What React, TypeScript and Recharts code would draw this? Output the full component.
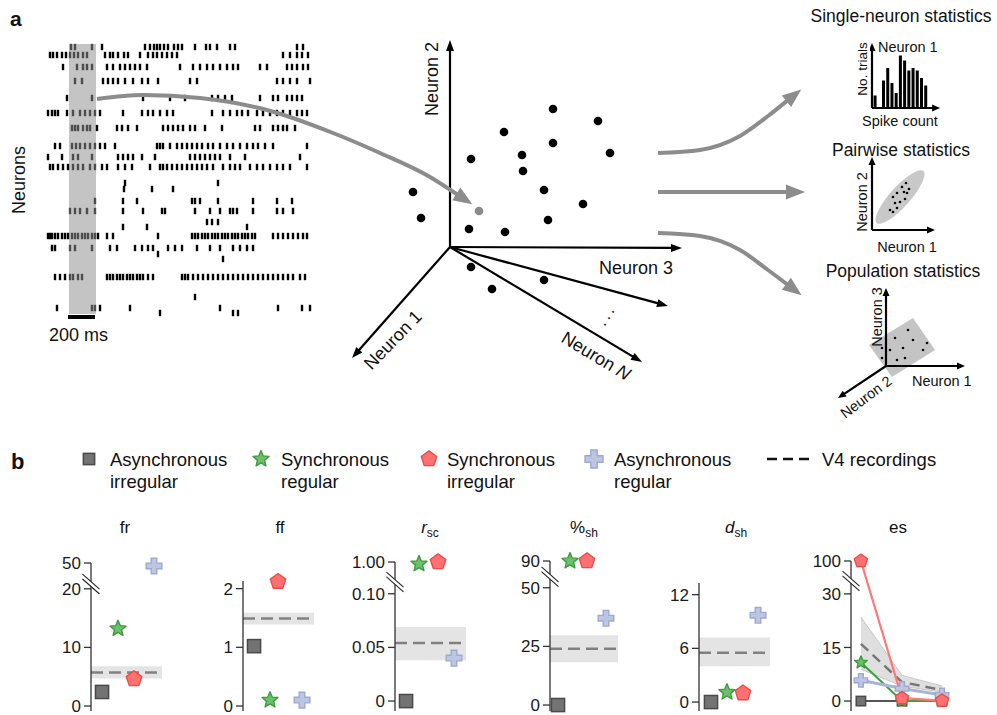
import React from "react"
import {
  ComposedChart, ScatterChart, Scatter, Line, Area, Bar, XAxis, YAxis,
  ReferenceArea, ReferenceLine, ReferenceDot,
} from "recharts"

const FONT = "'Liberation Sans', Arial, Helvetica, sans-serif"
const ARROW_GRAY = "#8c8c8c"
const NONE = { top: 0, right: 0, bottom: 0, left: 0 }

// ---------- panel a : raster (x in ~7.4 ms bins, 27 bins = 200 ms ; y = neuron row)
const rasterRows = [47, 55, 67, 81, 98, 113, 128, 146, 157, 167, 183, 189, 201, 211, 222, 227, 236, 248, 254, 259, 277, 297, 308, 313]
const rasterSpikes: number[][] = [
  [71, 75, 92, 102, 145, 150, 154, 157, 160, 164, 168, 174, 178, 182, 195, 206, 210, 217, 230, 235, 297, 303],
  [50, 53, 57, 62, 66, 70, 74, 78, 83, 87, 105, 110, 113, 118, 124, 128, 140, 148, 153, 157, 162, 167, 172, 177, 283, 290, 297, 302, 308],
  [63, 77, 83, 87, 92, 107, 113, 120, 125, 130, 135, 140, 147, 180, 193, 200, 207, 213, 220, 227, 233, 238, 260, 267, 287, 292, 297, 303, 308],
  [75, 82, 103, 108, 113, 118, 125, 133, 142, 148, 158, 190, 197, 277, 283, 290, 297, 310],
  [67, 92, 143, 170, 185, 212, 218, 225, 232, 260, 273, 278, 287, 292, 297, 302],
  [48, 52, 55, 58, 67, 73, 80, 85, 90, 95, 100, 123, 142, 148, 153, 160, 167, 173, 212, 223, 230, 237, 242, 248, 257, 263, 270, 277, 283, 290, 297, 302, 307],
  [72, 75, 78, 83, 87, 90, 97, 117, 122, 128, 137, 163, 168, 173, 178, 183, 190, 195, 205, 222, 255, 260, 273, 278, 283, 287, 295],
  [55, 60, 72, 76, 80, 85, 90, 95, 100, 105, 115, 157, 160, 163, 170, 177, 182, 187, 192, 197, 202, 208, 213, 220, 227, 233, 240, 247, 253, 258, 265, 273, 307],
  [48, 62, 73, 78, 92, 118, 123, 128, 133, 142, 155, 190, 195, 200, 205, 210, 215, 220, 230, 245, 300],
  [50, 53, 58, 63, 68, 73, 78, 83, 90, 95, 102, 107, 118, 125, 132, 150, 160, 163, 167, 172, 177, 182, 187, 192, 197, 202, 207, 213, 223, 230, 235, 240, 250, 257, 263, 270, 277, 283, 290, 307],
  [125, 218],
  [124, 152, 173],
  [95, 123, 137, 192, 195, 200, 218, 253, 277, 292],
  [70, 75, 80, 87, 95, 123, 143, 162, 165, 195, 210, 220, 230, 233, 237, 253, 277, 283, 293],
  [207, 212, 218],
  [123, 147, 247],
  [48, 50, 52, 55, 58, 62, 65, 68, 72, 75, 78, 82, 85, 88, 92, 95, 98, 107, 113, 158, 192, 195, 198, 202, 205, 208, 212, 215, 218, 222, 225, 228, 232, 235, 238, 242, 245, 248, 252, 255, 273, 278, 283, 288, 293, 298, 303, 307],
  [52, 55, 70, 75, 92, 110, 117, 135, 142, 148, 153, 168, 175, 182, 197, 210, 220, 233, 240, 247, 253],
  [158],
  [223],
  [55, 60, 65, 70, 73, 78, 82, 107, 110, 113, 117, 120, 123, 127, 130, 133, 137, 140, 143, 148, 153, 182, 185, 188, 193, 198, 203, 208, 213, 218, 223, 228, 233, 238, 243, 248, 253, 258, 263, 268, 273, 278, 283, 288, 293, 300, 305],
  [195],
  [57, 92, 95, 100, 130, 220, 278, 302, 310],
  [160, 233, 238],
]
const windowBins = [69, 96]
const scaleBarBins = [68, 95]

// ---------- neuron space (relative to origin)
const cloudX = [103, 148, 54, 103, 160, 21, 72, 73, 94, 133, -37, -29, 98, 19, 55, 21, 42, 94]
const cloudY = [138, 126, 115, 104, 94, 88, 92, 76, 57, 43, 55, 29, 27, 18, 15, -20, -42, -33]
const sampleX = [29]
const sampleY = [36]
const axisEndX = [0, 232, -98, 218, 192]
const axisEndY = [207, -1, -111, -59, -115]

// ---------- gray connectors (diagram coords)
const connRasterX = [97, 143, 200, 267, 333, 380, 430, 458]
const connRasterY = [99, 95, 98, 110, 133, 153, 177, 195]
const connTopX = [658, 700, 740, 768, 788]
const connTopY = [153, 150, 136, 116, 100]
const connMidX = [658, 788]
const connMidY = [192, 192]
const connBotX = [658, 700, 740, 768, 788]
const connBotY = [233, 236, 250, 270, 285]

// ---------- insets
const histBins = [0, 1, 2, 3, 4, 5, 6, 7, 8, 9, 10, 11, 12]
const histCounts = [5, 0, 11, 16, 10, 6, 21, 19, 15, 16, 15, 12, 9]
const pairX = [21, 25, 30, 34, 32, 37, 23, 28, 33, 18, 21, 25, 35]
const pairY = [33, 37, 43, 47, 38, 41, 27, 28, 31, 20, 18, 22, 37]
const pairEllipse = { cx: 28, cy: 33, rx: 35, ry: 10, angle: 48 }
const popX = [-4, 9, 22, 27, 41, 4, 17, 37, -4, 11, 19]
const popY = [18, 28, 36, 26, 23, 16, 18, 16, 8, 6, 8]
const popRect = [[-17, 21], [27, 48], [49, 16], [6, -11]]

// ---------- panel b (order: async irregular, sync regular, sync irregular, async regular)
const frX = [0.69, 1.69, 2.69, 3.94]
const frVals = [2.4, 13.2, 4.6, 48]
const frV4 = [4.7, 5.7, 6.8]
const ffX = [0.69, 1.69, 2.19, 3.69]
const ffVals = [1.02, 0.1, 2.12, 0.1]
const ffV4 = [1.39, 1.49, 1.59]
const rscX = [0.69, 1.5, 2.69, 3.69]
const rscVals = [0, 0.98, 1.0, 0.04]
const rscV4 = [0.038, 0.054, 0.069]
const shX = [0.5, 1.25, 2.31, 3.5]
const shVals = [0, 90, 90, 37]
const shV4 = [18.2, 24, 29.7]
const dshX = [0.75, 1.75, 2.75, 3.69]
const dshVals = [0, 1.1, 1.0, 9.7]
const dshV4 = [4.0, 5.5, 7.2]
const esX = [0.62, 3.19, 5.69]
const esAI = [0, 0, 0]
const esSR = [10.8, 0, 0]
const esSI = [100, 0.8, 0.1]
const esAR = [5.8, 3.5, 1.7]
const esV4 = [16, 5.3, 3.1]
const esV4Lo = [8.9, 4.2, 2.5]
const esV4Hi = [23.5, 7.2, 4.2]

type Kind = "square" | "star" | "pentagon" | "plus"
const KINDS: Kind[] = ["square", "star", "pentagon", "plus"]
const MARK: Record<Kind, { fill: string; stroke: string }> = {
  square: { fill: "#737373", stroke: "#4a4a4a" },
  star: { fill: "#6cbf6c", stroke: "#3c9c3c" },
  pentagon: { fill: "#ff7070", stroke: "#ef4a4a" },
  plus: { fill: "#bcc5e2", stroke: "#9ea9d2" },
}

function polyPts(pts: number[][]) {
  return pts.map((p) => `${p[0].toFixed(1)},${p[1].toFixed(1)}`).join(" ")
}

function drawMarker(kind: Kind, cx: number, cy: number, s: number, key?: any) {
  const c = MARK[kind]
  if (kind === "square") {
    const h = s * 0.47
    return <rect key={key} x={cx - h} y={cy - h} width={2 * h} height={2 * h} fill={c.fill} stroke={c.stroke} strokeWidth={1.5} />
  }
  if (kind === "star" || kind === "pentagon") {
    const n = kind === "star" ? 10 : 5
    const R = kind === "star" ? s * 0.6 : s * 0.58
    const pts = []
    for (let i = 0; i < n; i++) {
      const a = (-90 + (i * 360) / n) * Math.PI / 180
      const r = kind === "star" && i % 2 === 1 ? R * 0.45 : R
      pts.push([cx + r * Math.cos(a), cy + r * Math.sin(a)])
    }
    return <polygon key={key} points={polyPts(pts)} fill={c.fill} stroke={c.stroke} strokeWidth={1.4} strokeLinejoin="round" />
  }
  const t = s * 0.2, L = s * 0.56
  const pts = [[-t, -L], [t, -L], [t, -t], [L, -t], [L, t], [t, t], [t, L], [-t, L], [-t, t], [-L, t], [-L, -t], [-t, -t]]
  return <polygon key={key} points={polyPts(pts.map((p) => [cx + p[0], cy + p[1]]))} fill={c.fill} stroke={c.stroke} strokeWidth={1.4} />
}

function marker(kind: Kind, s: number) {
  return (p: any) => (p.cx == null ? <g key={p.index} /> : drawMarker(kind, p.cx, p.cy, s, p.index))
}

function arrowLine(color: string, width: number, head: number, headW: number) {
  return (p: any) => {
    const { x1, y1, x2, y2 } = p
    const a = Math.atan2(y2 - y1, x2 - x1)
    const bx = x2 - head * Math.cos(a), by = y2 - head * Math.sin(a)
    const nx = (-Math.sin(a) * headW) / 2, ny = (Math.cos(a) * headW) / 2
    return (
      <g>
        <line x1={x1} y1={y1} x2={bx + Math.cos(a)} y2={by + Math.sin(a)} stroke={color} strokeWidth={width} />
        <polygon points={polyPts([[x2, y2], [bx + nx, by + ny], [bx - nx, by - ny]])} fill={color} />
      </g>
    )
  }
}

function headDot(d: { x: number; y: number }[]) {
  return (p: any) => {
    if (p.index !== d.length - 1) return <g key={p.index} />
    const prev = d[p.index - 1]
    const a = Math.atan2(d[p.index].y - prev.y, d[p.index].x - prev.x)
    const L = 17, W = 15
    const bx = p.cx - 2 * Math.cos(a), by = p.cy - 2 * Math.sin(a)
    const nx = (-Math.sin(a) * W) / 2, ny = (Math.cos(a) * W) / 2
    return <polygon key={p.index} points={polyPts([[p.cx + L * Math.cos(a), p.cy + L * Math.sin(a)], [bx + nx, by + ny], [bx - nx, by - ny]])} fill={ARROW_GRAY} />
  }
}

const dotShape = (r: number, fill: string) => (p: any) => <circle cx={p.cx} cy={p.cy} r={r} fill={fill} />

function polygonArea(corners: number[][]) {
  const xs = corners.map((c) => c[0]), ys = corners.map((c) => c[1])
  const x1 = Math.min(...xs), x2 = Math.max(...xs), y1 = Math.min(...ys), y2 = Math.max(...ys)
  const shape = (p: any) => {
    const pts = corners.map((c) => [p.x + ((c[0] - x1) / (x2 - x1)) * p.width, p.y + ((y2 - c[1]) / (y2 - y1)) * p.height])
    return <polygon points={polyPts(pts)} fill="#c4c4c4" />
  }
  return { x1, x2, y1, y2, shape }
}

function toPts(xs: number[], ys: number[]) {
  return xs.map((x, i) => ({ x, y: ys[i] }))
}

function Raster() {
  const data = rasterRows.flatMap((row, i) => rasterSpikes[i].map((t) => ({ t, row })))
  const spike = (p: any) => {
    const inWin = p.payload.t >= windowBins[0] && p.payload.t <= windowBins[1]
    return <rect x={p.cx - 1.2} y={p.cy - 3.2} width={2.4} height={6.4} fill={inWin ? "#4d4d4d" : "#000"} />
  }
  return (
    <div style={{ position: "absolute", left: 40, top: 40 }}>
      <ScatterChart width={285} height={280} margin={NONE}>
        <XAxis type="number" dataKey="t" domain={[40, 325]} hide />
        <YAxis type="number" dataKey="row" domain={[40, 320]} reversed hide />
        <ReferenceArea x1={windowBins[0]} x2={windowBins[1]} y1={44} y2={314} fill="#c4c4c4" fillOpacity={1} stroke="none" ifOverflow="visible" />
        <Scatter data={data} shape={spike} isAnimationActive={false} />
        <ReferenceLine segment={[{ x: scaleBarBins[0], y: 317 }, { x: scaleBarBins[1], y: 317 }]} stroke="#000" strokeWidth={4} ifOverflow="visible" />
      </ScatterChart>
    </div>
  )
}

function NeuronSpace() {
  const cloud = toPts(cloudX, cloudY)
  return (
    <div style={{ position: "absolute", left: 340, top: 30 }}>
      <ScatterChart width={360} height={360} margin={NONE}>
        <XAxis type="number" dataKey="x" domain={[-110, 250]} hide />
        <YAxis type="number" dataKey="y" domain={[-143, 217]} hide />
        {axisEndX.map((x, i) => (
          <ReferenceLine key={i} segment={[{ x: 0, y: 0 }, { x, y: axisEndY[i] }]} shape={arrowLine("#000", 2.2, 11, 8)} ifOverflow="visible" />
        ))}
        <Scatter data={cloud} shape={dotShape(4.3, "#000")} isAnimationActive={false} />
        <Scatter data={toPts(sampleX, sampleY)} shape={dotShape(4.3, "#8a8a8a")} isAnimationActive={false} />
      </ScatterChart>
    </div>
  )
}

function Connectors() {
  const arrows = [
    toPts(connRasterX, connRasterY),
    toPts(connTopX, connTopY),
    toPts(connMidX, connMidY),
    toPts(connBotX, connBotY),
  ]
  return (
    <div style={{ position: "absolute", left: 0, top: 0 }}>
      <ComposedChart width={997} height={420} margin={NONE}>
        <XAxis type="number" dataKey="x" domain={[0, 997]} hide />
        <YAxis type="number" dataKey="y" domain={[0, 420]} reversed hide />
        {arrows.map((d, i) => (
          <Line key={i} data={d} dataKey="y" type="monotoneX" stroke={ARROW_GRAY} strokeWidth={4}
            dot={headDot(d)} activeDot={false} isAnimationActive={false} />
        ))}
      </ComposedChart>
    </div>
  )
}

function Histogram() {
  const data = histBins.map((bin, i) => ({ bin, count: histCounts[i] }))
  return (
    <div style={{ position: "absolute", left: 870, top: 40 }}>
      <ComposedChart width={72} height={72} margin={NONE} data={data}>
        <XAxis type="number" dataKey="bin" domain={[-1.11, 15.95]} hide />
        <YAxis type="number" domain={[-1.6, 27.2]} hide />
        <Bar dataKey="count" fill="#000" barSize={3} isAnimationActive={false} />
        <ReferenceLine segment={[{ x: -0.64, y: 0 }, { x: -0.64, y: 26 }]} shape={arrowLine("#000", 2.2, 8, 7)} ifOverflow="visible" />
        <ReferenceLine segment={[{ x: -0.64, y: 0 }, { x: 15.5, y: 0 }]} shape={arrowLine("#000", 2.2, 8, 7)} ifOverflow="visible" />
      </ComposedChart>
    </div>
  )
}

function Pairwise() {
  const e = pairEllipse
  const ellipse = (p: any) => {
    const s = p.width / (2 * e.rx)
    const cx = p.x + p.width / 2, cy = p.y + p.height / 2
    return <ellipse cx={cx} cy={cy} rx={e.rx * s} ry={e.ry * s} fill="#c8c8c8" transform={`rotate(${-e.angle} ${cx} ${cy})`} />
  }
  return (
    <div style={{ position: "absolute", left: 850, top: 150 }}>
      <ScatterChart width={90} height={85} margin={NONE}>
        <XAxis type="number" dataKey="x" domain={[-22, 68]} hide />
        <YAxis type="number" dataKey="y" domain={[-5, 80]} hide />
        <ReferenceArea x1={e.cx - e.rx} x2={e.cx + e.rx} y1={e.cy - e.rx} y2={e.cy + e.rx} shape={ellipse} ifOverflow="visible" />
        <ReferenceLine segment={[{ x: 0, y: 0 }, { x: 0, y: 73 }]} shape={arrowLine("#000", 2.2, 8, 7)} ifOverflow="visible" />
        <ReferenceLine segment={[{ x: 0, y: 0 }, { x: 63, y: 0 }]} shape={arrowLine("#000", 2.2, 8, 7)} ifOverflow="visible" />
        <Scatter data={toPts(pairX, pairY)} shape={dotShape(1.3, "#000")} isAnimationActive={false} />
      </ScatterChart>
    </div>
  )
}

function Population() {
  const box = polygonArea(popRect)
  return (
    <div style={{ position: "absolute", left: 830, top: 280 }}>
      <ScatterChart width={145} height={130} margin={NONE}>
        <XAxis type="number" dataKey="x" domain={[-56, 89]} hide />
        <YAxis type="number" dataKey="y" domain={[-44, 86]} hide />
        <ReferenceArea x1={box.x1} x2={box.x2} y1={box.y1} y2={box.y2} shape={box.shape} ifOverflow="visible" />
        <ReferenceLine segment={[{ x: 0, y: 0 }, { x: 0, y: 78 }]} shape={arrowLine("#000", 2.2, 8, 7)} ifOverflow="visible" />
        <ReferenceLine segment={[{ x: 0, y: 0 }, { x: 79, y: 0 }]} shape={arrowLine("#000", 2.2, 8, 7)} ifOverflow="visible" />
        <ReferenceLine segment={[{ x: 0, y: 0 }, { x: -48, y: -32 }]} shape={arrowLine("#000", 2.2, 8, 7)} ifOverflow="visible" />
        <Scatter data={toPts(popX, popY)} shape={dotShape(1.3, "#000")} isAnimationActive={false} />
      </ScatterChart>
    </div>
  )
}

// broken y axis: values above lowMax are folded up next to the top tick
function broken(lowMax: number, upTick: number, upDisp: number, k: number) {
  return (v: number) => (v <= lowMax ? v : upDisp - (upTick - v) * k)
}
const ident = (v: number) => v

const breakShape = (p: any) => {
  const { cx, cy } = p
  const dx = 8.5, dy = 7.5, g = 2.4
  return (
    <g>
      <polygon points={polyPts([[cx - dx, cy - dy - g], [cx + dx, cy + dy - g], [cx + dx, cy + dy + g], [cx - dx, cy - dy + g]])} fill="#fff" />
      <line x1={cx - dx} y1={cy - dy - g} x2={cx + dx} y2={cy + dy - g} stroke="#222" strokeWidth={1.1} />
      <line x1={cx - dx} y1={cy - dy + g} x2={cx + dx} y2={cy + dy + g} stroke="#222" strokeWidth={1.1} />
    </g>
  )
}

const Y_W = 50
const TOP = 550

function yAxisProps(domain: number[], ticks: number[], labels: string[]) {
  return {
    type: "number" as const, domain, ticks, interval: 0 as const,
    width: Y_W, tickSize: 7, tickMargin: 3,
    tickFormatter: (v: number) => labels[ticks.indexOf(v)] ?? "",
    tick: { fill: "#1a1a1a", fontSize: 17, fontFamily: FONT },
    axisLine: { stroke: "#333", strokeWidth: 1.3 },
    tickLine: { stroke: "#333", strokeWidth: 1.3 },
  }
}

type StatProps = {
  axisX: number; axisTop: number; domain: number[]; ticks: number[]; labels: string[]
  breakAt?: number; v4: number[]; bandEnd: number; xs: number[]; vals: number[]; disp: (v: number) => number
}

function StatChart({ axisX, axisTop, domain, ticks, labels, breakAt, v4, bandEnd, xs, vals, disp }: StatProps) {
  const plotW = 4.44 * 16
  return (
    <div style={{ position: "absolute", left: axisX - Y_W, top: TOP }}>
      <ComposedChart width={Y_W + plotW + 14} height={170} margin={{ top: axisTop - TOP, right: 14, bottom: 9, left: 0 }}>
        <XAxis type="number" dataKey="x" domain={[0, 4.44]} hide />
        <YAxis dataKey="y" {...yAxisProps(domain, ticks, labels)} />
        <ReferenceArea x1={0} x2={bandEnd} y1={disp(v4[0])} y2={disp(v4[2])} fill="#e4e4e4" fillOpacity={1} stroke="none" ifOverflow="visible" />
        <ReferenceLine segment={[{ x: 0, y: disp(v4[1]) }, { x: bandEnd, y: disp(v4[1]) }]} stroke="#808080" strokeWidth={2.5} strokeDasharray="12 6" ifOverflow="visible" />
        {breakAt != null && <ReferenceDot x={0} y={breakAt} r={0} shape={breakShape} ifOverflow="visible" />}
        {vals.map((v, i) => (
          <Scatter key={i} data={[{ x: xs[i], y: disp(v) }]} shape={marker(KINDS[i], 14)} isAnimationActive={false} />
        ))}
      </ComposedChart>
    </div>
  )
}

function EsChart() {
  const disp = broken(30, 100, 39.2, 0.05)
  const data = esX.map((x, i) => ({
    x, ai: esAI[i], sr: esSR[i], si: disp(esSI[i]), ar: esAR[i], v4: esV4[i], band: [esV4Lo[i], esV4Hi[i]],
  }))
  const ticks = [0, 15, 30, 39.2]
  const axisX = 851, axisTop = 561
  return (
    <div style={{ position: "absolute", left: axisX - Y_W, top: TOP }}>
      <ComposedChart data={data} width={Y_W + 96 + 14} height={170} margin={{ top: axisTop - TOP, right: 14, bottom: 9, left: 0 }}>
        <XAxis type="number" dataKey="x" domain={[0, 6]} hide />
        <YAxis {...yAxisProps([-2.78, 39.2], ticks, ["0", "15", "30", "100"])} />
        <Area dataKey="band" type="linear" stroke="#c8c8c8" strokeWidth={1} fill="#d9d9d9" fillOpacity={0.85} isAnimationActive={false} />
        <Line dataKey="v4" type="linear" stroke="#777" strokeWidth={2.5} strokeDasharray="10 6" dot={false} activeDot={false} isAnimationActive={false} />
        <Line dataKey="ai" type="linear" stroke="#555" strokeWidth={2} dot={marker("square", 10)} activeDot={false} isAnimationActive={false} />
        <Line dataKey="sr" type="linear" stroke="#3f9f3f" strokeWidth={2} dot={marker("star", 11)} activeDot={false} isAnimationActive={false} />
        <Line dataKey="ar" type="linear" stroke="#aab3d8" strokeWidth={3} dot={marker("plus", 12)} activeDot={false} isAnimationActive={false} />
        <Line dataKey="si" type="linear" stroke="#ff7878" strokeWidth={2.2} dot={marker("pentagon", 12)} activeDot={false} isAnimationActive={false} />
        <ReferenceDot x={0} y={33.6} r={0} shape={breakShape} ifOverflow="visible" />
      </ComposedChart>
    </div>
  )
}

function Labels() {
  const t = { fontFamily: FONT, fill: "#111" }
  const legend = [
    { kind: "square" as Kind, mx: 89, s: 12, tx: 110, l1: "Asynchronous", l2: "irregular" },
    { kind: "star" as Kind, mx: 261, s: 14, tx: 281, l1: "Synchronous", l2: "regular" },
    { kind: "pentagon" as Kind, mx: 429, s: 14, tx: 447, l1: "Synchronous", l2: "irregular" },
    { kind: "plus" as Kind, mx: 594, s: 16, tx: 614, l1: "Asynchronous", l2: "regular" },
  ]
  const small = { ...t, fontSize: 14.5 }
  const mid = { ...t, fontSize: 18 }
  const title = { ...t, fontSize: 17.5, textAnchor: "middle" as const }
  const btitle = { ...t, fontSize: 17, textAnchor: "middle" as const }
  return (
    <svg width={997} height={715} style={{ position: "absolute", left: 0, top: 0, pointerEvents: "none" }}>
      <text x={10} y={26} fontSize={21} fontWeight="bold" {...t}>a</text>
      <text x={11} y={469} fontSize={22} fontWeight="bold" {...t}>b</text>

      <text transform="translate(25,180) rotate(-90)" textAnchor="middle" {...mid}>Neurons</text>
      <text x={49} y={341} {...mid}>200 ms</text>

      <text transform="translate(438,79) rotate(-90)" textAnchor="middle" {...mid}>Neuron 2</text>
      <text x={599} y={274} {...mid}>Neuron 3</text>
      <text transform="translate(393,340) rotate(-46)" y={6} textAnchor="middle" {...mid}>Neuron 1</text>
      <text transform="translate(596,356) rotate(31)" y={6} textAnchor="middle" {...mid}>Neuron <tspan fontStyle="italic">N</tspan></text>
      <text transform="translate(608,316) rotate(-58)" y={3} textAnchor="middle" letterSpacing={2.5} {...mid}>...</text>

      <text x={901} y={22} {...title}>Single-neuron statistics</text>
      <text transform="translate(867,69) rotate(-90)" textAnchor="middle" {...t} fontSize={13.5}>No. trials</text>
      <text x={878} y={52} {...small}>Neuron 1</text>
      <text x={900} y={126} textAnchor="middle" {...small}>Spike count</text>

      <text x={901} y={156} {...title}>Pairwise statistics</text>
      <text transform="translate(867,202) rotate(-90)" textAnchor="middle" {...small}>Neuron 2</text>
      <text x={907} y={252} textAnchor="middle" {...small}>Neuron 1</text>

      <text x={903} y={277} {...title}>Population statistics</text>
      <text transform="translate(882,317) rotate(-90)" textAnchor="middle" {...small}>Neuron 3</text>
      <text x={912} y={386} {...small}>Neuron 1</text>
      <text transform="translate(866,397) rotate(-37)" y={5} textAnchor="middle" {...small}>Neuron 2</text>

      {legend.map((l) => (
        <g key={l.tx}>
          {drawMarker(l.kind, l.mx, 459, l.s)}
          <text x={l.tx} y={466} fontSize={18.5} {...t}>{l.l1}</text>
          <text x={l.tx} y={488} fontSize={18.5} {...t}>{l.l2}</text>
        </g>
      ))}
      <line x1={767} y1={459} x2={813} y2={459} stroke="#111" strokeWidth={2.5} strokeDasharray="10 6" />
      <text x={822} y={466} fontSize={18.5} {...t}>V4 recordings</text>

      <text x={125} y={533} {...btitle}>fr</text>
      <text x={280} y={533} {...btitle}>ff</text>
      <text x={430} y={533} {...btitle}><tspan fontStyle="italic">r</tspan><tspan fontSize={12} dy={4}>sc</tspan></text>
      <text x={584} y={533} {...btitle}>%<tspan fontSize={12} dy={4}>sh</tspan></text>
      <text x={736} y={533} {...btitle}><tspan fontStyle="italic">d</tspan><tspan fontSize={12} dy={4}>sh</tspan></text>
      <text x={898} y={533} {...btitle}>es</text>
    </svg>
  )
}

export default function App() {
  return (
    <div style={{ position: "absolute", left: 0, top: 0, width: 997, height: 715, background: "#fff", overflow: "hidden" }}>
      <Raster />
      <NeuronSpace />
      <Histogram />
      <Pairwise />
      <Population />
      <Connectors />

      <StatChart axisX={91} axisTop={563} domain={[-0.85, 24.4]} ticks={[0, 10, 20, 24.4]} labels={["0", "10", "20", "50"]}
        breakAt={20.8} v4={frV4} bandEnd={4.44} xs={frX} vals={frVals} disp={broken(20, 50, 24.4, 0.25)} />
      <StatChart axisX={243} axisTop={581} domain={[-0.085, 2.13]} ticks={[0, 1, 2]} labels={["0", "1", "2"]}
        v4={ffV4} bandEnd={4.44} xs={ffX} vals={ffVals} disp={ident} />
      <StatChart axisX={395} axisTop={562} domain={[-0.00926, 0.1296]} ticks={[0, 0.05, 0.1, 0.1296]} labels={["0", "0.05", "0.10", "1.00"]}
        breakAt={0.111} v4={rscV4} bandEnd={4.44} xs={rscX} vals={rscVals} disp={broken(0.1, 1, 0.1296, 0.09)} />
      <StatChart axisX={550} axisTop={561} domain={[-2.54, 61.4]} ticks={[0, 25, 50, 61.4]} labels={["0", "25", "50", "90"]}
        breakAt={54.7} v4={shV4} bandEnd={4.25} xs={shX} vals={shVals} disp={broken(50, 90, 61.4, 0.1)} />
      <StatChart axisX={699} axisTop={583} domain={[-1.0, 13.3]} ticks={[0, 6, 12]} labels={["0", "6", "12"]}
        v4={dshV4} bandEnd={4.44} xs={dshX} vals={dshVals} disp={ident} />
      <EsChart />

      <Labels />
    </div>
  )
}
